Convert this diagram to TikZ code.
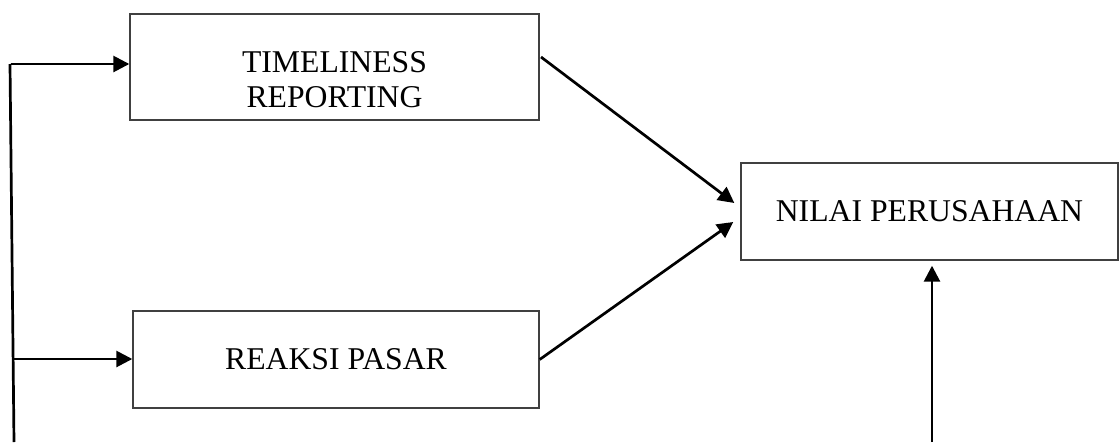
\documentclass[tikz,border=0pt]{standalone}
\usepackage{fontspec}
\setmainfont{Liberation Serif}
\usetikzlibrary{arrows.meta,calc}
\begin{document}
\begin{tikzpicture}[x=1pt,y=-1pt,
  box/.style={draw=black!75,line width=1.4pt,rectangle,align=center,inner sep=0pt,
    font=\fontsize{31.7}{35}\selectfont},
  conn/.style={line width=2.7pt,-{Triangle[length=16pt,width=16pt]}},
  plain/.style={line width=2.7pt}]
\useasboundingbox (0,0) rectangle (1119,442);
\node[box,minimum width=409pt,minimum height=106pt] (t) at (334.5,67) {\rule{0pt}{46pt}TIMELINESS\\REPORTING};
\node[box,minimum width=406pt,minimum height=97pt] (r) at (336,359.5) {REAKSI PASAR};
\node[box,minimum width=377pt,minimum height=97pt] (n) at (929.5,211.5) {NILAI PERUSAHAAN};
\coordinate (a) at (10,64);
\coordinate (b) at (14,442);
\coordinate (a1) at (11,64);
\coordinate (b1) at (13.5,359);
\coordinate (ts) at (541,57);
\coordinate (c) at (932,442);
\draw[plain] (a) -- (b);
\draw[conn] (a1) -- (a1 -| t.west);
\draw[conn] (b1) -- (b1 -| r.west);
\draw[conn] (ts) -- ($(n.west)+(-6,-8.5)$);
\draw[conn] (r.east) -- ($(n.west)+(-7,10.5)$);
\draw[conn] (c) -- ($(n.south)+(2.5,5)$);
\end{tikzpicture}
\end{document}
